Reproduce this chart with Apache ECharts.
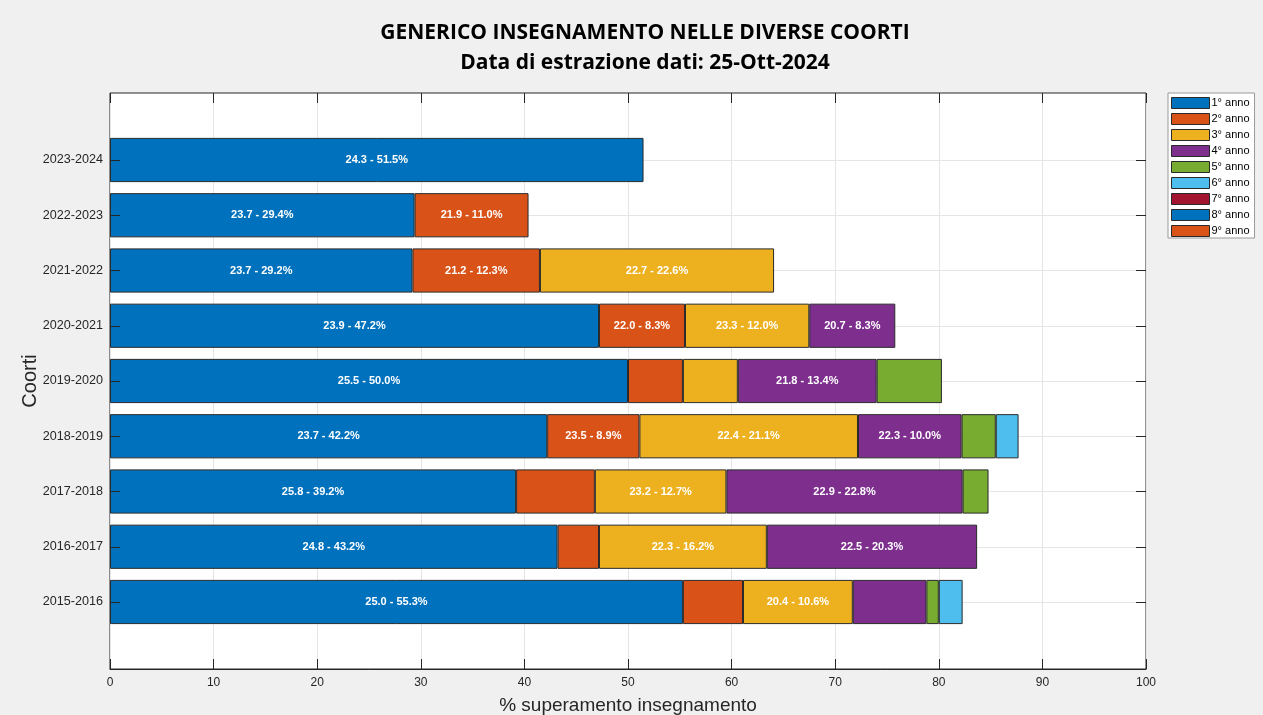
<!DOCTYPE html>
<html>
<head>
<meta charset="utf-8">
<script src="https://cdn.jsdelivr.net/npm/echarts@6/dist/echarts.min.js"></script>
<style>
html,body{margin:0;padding:0;background:#f0f0f0;}
#chart{width:1263px;height:715px;}
</style>
</head>
<body>
<div id="chart"></div>
<script>
// Cohorts, top to bottom
const cohorts = ['2023-2024','2022-2023','2021-2022','2020-2021','2019-2020','2018-2019','2017-2018','2016-2017','2015-2016'];
const seriesNames = ['1° anno','2° anno','3° anno','4° anno','5° anno','6° anno','7° anno','8° anno','9° anno'];
const xTicks = [0,10,20,30,40,50,60,70,80,90,100];

// % superamento per anno di corso
const anno1 = [51.5, 29.4, 29.2, 47.2, 50.0, 42.2, 39.2, 43.2, 55.3];
const anno2 = [null, 11.0, 12.3, 8.3, 5.3, 8.9, 7.6, 4.0, 5.8];
const anno3 = [null, null, 22.6, 12.0, 5.3, 21.1, 12.7, 16.2, 10.6];
const anno4 = [null, null, null, 8.3, 13.4, 10.0, 22.8, 20.3, 7.1];
const anno5 = [null, null, null, null, 6.3, 3.3, 2.5, null, 1.2];
const anno6 = [null, null, null, null, null, 2.2, null, null, 2.3];
const anno7 = [];
const anno8 = [];
const anno9 = [];

// voto medio (shown in label where segment is wide enough)
const voto1 = [24.3, 23.7, 23.7, 23.9, 25.5, 23.7, 25.8, 24.8, 25.0];
const voto2 = [null, 21.9, 21.2, 22.0, null, 23.5, null, null, null];
const voto3 = [null, null, 22.7, 23.3, null, 22.4, 23.2, 22.3, 20.4];
const voto4 = [null, null, null, 20.7, 21.8, 22.3, 22.9, 22.5, null];
const voto5 = [];
const voto6 = [];
const voto7 = [];
const voto8 = [];
const voto9 = [];

const values = [anno1, anno2, anno3, anno4, anno5, anno6, anno7, anno8, anno9];
const voti = [voto1, voto2, voto3, voto4, voto5, voto6, voto7, voto8, voto9];
const colors = ['#0072BD','#D95319','#EDB120','#7E2F8E','#77AC30','#4DBEEE','#A2142F','#0072BD','#D95319'];

const FONT = 'Liberation Sans';
const L = 110, R = 117;

const series = seriesNames.map((name, i) => ({
  name: name,
  type: 'bar',
  stack: 'tot',
  xAxisIndex: 1,
  yAxisIndex: 1,
  barWidth: '80%',
  clip: false,
  data: values[i],
  itemStyle: { color: colors[i], borderColor: '#2a2a2a', borderWidth: 1 },
  label: {
    show: true,
    position: 'inside',
    color: '#fff',
    fontFamily: FONT,
    fontWeight: 'bold',
    fontSize: 11,
    formatter: p => {
      const g = voti[i][p.dataIndex];
      if (g == null || p.value == null) return '';
      return g.toFixed(1) + ' - ' + Number(p.value).toFixed(1) + '%';
    }
  }
}));

const chart = echarts.init(document.getElementById('chart'));
chart.setOption({
  backgroundColor: '#f0f0f0',
  animation: false,
  color: colors,
  title: {
    text: 'GENERICO INSEGNAMENTO NELLE DIVERSE COORTI',
    subtext: 'Data di estrazione dati: 25-Ott-2024',
    left: 640,
    textAlign: 'center',
    top: 18,
    itemGap: 9,
    textStyle: { fontFamily: 'Open Sans', fontWeight: 'bold', fontSize: 21, color: '#000' },
    subtextStyle: { fontFamily: 'Open Sans', fontWeight: 'bold', fontSize: 21, color: '#000' }
  },
  legend: {
    orient: 'vertical',
    left: 1168,
    top: 93,
    data: seriesNames,
    itemWidth: 38,
    itemHeight: 11,
    itemGap: 4,
    padding: [4, 5, 1, 3],
    backgroundColor: '#fff',
    borderColor: '#999',
    borderWidth: 1,
    borderRadius: 0,
    icon: 'rect',
    itemStyle: { borderColor: '#2a2a2a', borderWidth: 1 },
    textStyle: { fontFamily: FONT, fontSize: 11, color: '#000', padding: [0, 0, 0, -3] }
  },
  grid: [
    { left: L, right: R, top: 93, bottom: 46, outerBoundsMode: 'none', containLabel: false, show: true, backgroundColor: '#fff', borderColor: '#262626', borderWidth: 1 },
    { left: L, right: R, top: 160, bottom: 113, outerBoundsMode: 'none', containLabel: false, show: false }
  ],
  xAxis: [
    {
      gridIndex: 0, type: 'value', min: 0, max: 100, interval: 10,
      position: 'bottom',
      axisLine: { show: true, lineStyle: { color: '#262626' } },
      axisTick: { show: true, inside: true, length: 10, lineStyle: { color: '#262626' } },
      axisLabel: { color: '#262626', fontFamily: FONT, fontSize: 12, margin: 8, formatter: v => xTicks.includes(v) ? String(v) : '' },
      splitLine: { show: true, lineStyle: { color: '#e5e5e5', width: 1 } },
      name: '% superamento insegnamento',
      nameLocation: 'middle',
      nameGap: 27,
      nameTextStyle: { fontFamily: FONT, fontSize: 19, color: '#262626' }
    },
    {
      gridIndex: 1, type: 'value', min: 0, max: 100, interval: 10,
      show: false, splitLine: { show: false }
    },
    {
      gridIndex: 0, type: 'value', min: 0, max: 100, interval: 10,
      position: 'top',
      axisLine: { show: false },
      axisTick: { show: true, inside: true, length: 10, lineStyle: { color: '#262626' } },
      axisLabel: { show: false },
      splitLine: { show: false }
    }
  ],
  yAxis: [
    {
      gridIndex: 0, type: 'value', min: 0, max: 1,
      axisLine: { show: false }, axisTick: { show: false }, axisLabel: { show: false },
      splitLine: { show: false },
      name: 'Coorti',
      nameLocation: 'middle',
      nameGap: 70,
      nameTextStyle: { fontFamily: FONT, fontSize: 20, color: '#262626' }
    },
    {
      gridIndex: 1, type: 'category', data: cohorts, inverse: true,
      boundaryGap: false,
      z: 10,
      axisLine: { show: false },
      axisTick: { show: true, inside: true, length: 10, lineStyle: { color: '#262626' } },
      axisLabel: { color: '#262626', fontFamily: FONT, fontSize: 12.6, margin: 7 },
      splitLine: { show: false }
    },
    {
      gridIndex: 1, type: 'category', data: cohorts, inverse: true,
      boundaryGap: false, position: 'right',
      axisLine: { show: false },
      axisTick: { show: true, inside: true, length: 10, lineStyle: { color: '#262626' } },
      axisLabel: { show: false },
      splitLine: { show: true, lineStyle: { color: '#e5e5e5', width: 1 } }
    }
  ],
  series: series
});
</script>
</body>
</html>
